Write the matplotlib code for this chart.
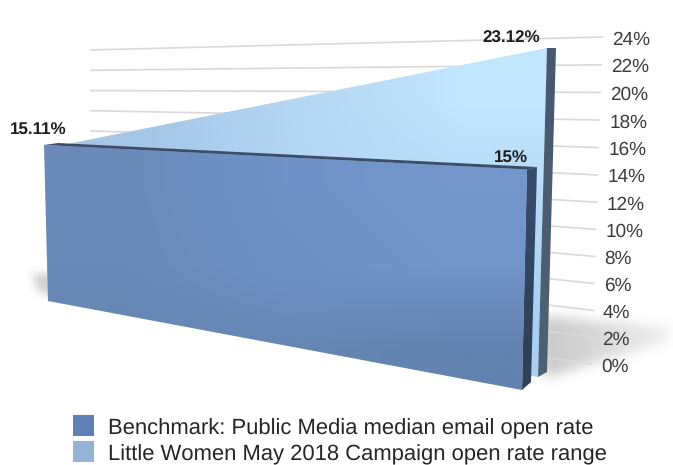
import numpy as np
import matplotlib
matplotlib.use("Agg")
import matplotlib.pyplot as plt
from matplotlib.path import Path
from matplotlib.patches import Polygon, Rectangle

# ---- chart values ----
tick_values = list(range(0, 26, 2))
tick_labels = [f"{v}%" for v in tick_values]
positions = [0, 1]
benchmark_values = [15, 15]
campaign_values = [15.11, 23.12]
benchmark_labels = ["", "15%"]
campaign_labels = ["15.11%", "23.12%"]
legend_labels = ["Benchmark: Public Media median email open rate",
                 "Little Women May 2018 Campaign open rate range"]

W, H = 673, 465
plt.rcParams["font.family"] = ["Liberation Sans", "DejaVu Sans"]
plt.rcParams["text.hinting"] = "no_hinting"
plt.rcParams["text.hinting_factor"] = 1
fig = plt.figure(figsize=(W / 100, H / 100), dpi=100)
ax = fig.add_axes([0, 0, 1, 1])
ax.set_axis_off()


def homography(src, dst):
    """Solve the plane projection taking four (position, value) pairs to canvas points."""
    rows, rhs = [], []
    for (u, v), (x, y) in zip(src, dst):
        rows.append([u, v, 1, 0, 0, 0, -u * x, -v * x]); rhs.append(x)
        rows.append([0, 0, 0, u, v, 1, -u * y, -v * y]); rhs.append(y)
    m = np.linalg.solve(np.array(rows, float), np.array(rhs, float))
    return np.append(m, 1).reshape(3, 3)


def plane(top_val_l, top_val_r, tl, bl, tr, br):
    mat = homography([(0, top_val_l), (0, 0), (1, top_val_r), (1, 0)], [tl, bl, tr, br])

    def project(u, v):
        p = mat @ np.array([u, v, 1.0])
        return p[0] / p[2], p[1] / p[2]
    return project


# Perspective planes of the 3D scene: back wall, campaign slab, benchmark slab
wall = plane(24, 24, (90, 50), (90, 290), (603, 37), (592, 364))
campaign = plane(15.11, 23.12, (70, 143.5), (72, 290), (547, 48), (538, 377))
campaign_back = plane(15.11, 23.12, (84, 141), (86, 286), (556, 48), (547, 372))
benchmark = plane(15, 15, (44, 145), (48, 301), (527, 169.5), (522, 390))
benchmark_back = plane(15, 15, (58, 143), (62, 295), (537, 167), (531, 382))


def gradient_poly(points, colours):
    """Fill a polygon with a bilinear gradient taken from a grid of hex colours."""
    pts = np.array(points)
    x0, y0 = pts.min(0)
    x1, y1 = pts.max(0)
    grid = np.array([[matplotlib.colors.to_rgb(c) for c in row] for row in colours])
    im = ax.imshow(grid, extent=(x0, x1, y1, y0), origin="upper", aspect="auto",
                   interpolation="bilinear", zorder=ax.get_zorder() + 3)
    patch = Polygon(points, closed=True, transform=ax.transData, fc="none", ec="none")
    ax.add_patch(patch)
    im.set_clip_path(patch)
    return im


def soft_shadow(points, sigma, alpha, fade_from=None, fade_to=None):
    """Blurred grey shadow rasterised onto the canvas."""
    yy, xx = np.mgrid[0:H, 0:W]
    mask = Path(points).contains_points(np.c_[xx.ravel() + .5, yy.ravel() + .5]).reshape(H, W).astype(float)
    r = int(3 * sigma)
    k = np.exp(-0.5 * (np.arange(-r, r + 1) / sigma) ** 2)
    k /= k.sum()
    mask = np.apply_along_axis(lambda a: np.convolve(a, k, mode="same"), 0, mask)
    mask = np.apply_along_axis(lambda a: np.convolve(a, k, mode="same"), 1, mask)
    if fade_from is not None:
        mask *= np.clip((fade_to - xx) / (fade_to - fade_from), 0, 1) ** 0.7
    rgba = np.zeros((H, W, 4))
    rgba[..., :3] = 0.45
    rgba[..., 3] = mask * alpha
    ax.imshow(rgba, extent=(0, W, H, 0), origin="upper", aspect="auto", zorder=1)


# Grid lines on the back wall, with tick labels just past their right ends
for v, lab in zip(tick_values, tick_labels):
    a, b = wall(0, v), wall(1, v)
    ax.plot([a[0], b[0]], [a[1], b[1]], color="#d9d9d9", lw=1.2, zorder=2, solid_capstyle="butt")
    lx, ly = wall(1, v)
    ax.text(lx + 9, ly + 2.5, lab, fontsize=14, color="#3c3c3c", ha="left", va="center", zorder=8)

# Floor shadows
soft_shadow([(535, 316), (673, 327), (673, 340), (545, 378)], 6, 0.38, 545, 690)
soft_shadow([(32, 274), (60, 274), (60, 298), (38, 292)], 4, 0.32)

# Campaign slab: front face and dark end
campaign_face = [campaign(positions[0], campaign_values[0]), campaign(positions[1], campaign_values[1]),
                 campaign(positions[1], 0), campaign(positions[0], 0)]
gradient_poly(campaign_face, [["#a6c6e6", "#b6d8f3", "#c2e6fc"],
                              ["#a6c6e6", "#b4d6f4", "#b4d9f6"],
                              ["#a6c6e6", "#aacdf0", "#a9cff2"]])
campaign_end = [campaign(1, campaign_values[1]), campaign_back(1, campaign_values[1]),
                campaign_back(1, 0), campaign(1, 0)]
gradient_poly(campaign_end, [["#485a70", "#485a70"], ["#4d6074", "#4d6074"]])

# Benchmark slab: thin top, front face and dark end
benchmark_top = [benchmark(0, benchmark_values[0]), benchmark(1, benchmark_values[1]),
                 benchmark_back(1, benchmark_values[1]), benchmark_back(0, benchmark_values[0])]
ax.add_patch(Polygon(benchmark_top, closed=True, fc="#3b4d68", ec="none", zorder=5))
benchmark_end = [benchmark(1, benchmark_values[1]), benchmark_back(1, benchmark_values[1]),
                 benchmark_back(1, 0), benchmark(1, 0)]
gradient_poly(benchmark_end, [["#36496a", "#36496a"], ["#2f4258", "#2f4258"]])
benchmark_face = [benchmark(0, benchmark_values[0]), benchmark(1, benchmark_values[1]),
                  benchmark(1, 0), benchmark(0, 0)]
gradient_poly(benchmark_face, [["#6a8ab9", "#7092c8", "#7496cb"],
                               ["#6989b8", "#6f90c4", "#7294c8"],
                               ["#6586b2", "#6687b4", "#6382b0"]])

# Value labels above the slab corners
label_style = dict(fontsize=12.6, fontweight="bold", color="#1e1e1e", ha="right", va="center", zorder=9)
x, y = campaign(positions[0], campaign_values[0])
ax.text(x - 3, y - 13, campaign_labels[0], **label_style)
x, y = campaign(positions[1], campaign_values[1])
ax.text(x - 7, y - 9.5, campaign_labels[1], **label_style)
x, y = benchmark(positions[1], benchmark_values[1])
ax.text(x + 1, y - 11.5, benchmark_labels[1], **label_style)

# Legend
for (lab, col, top) in zip(legend_labels, ["#5f80b5", "#95b3d7"], [415, 441]):
    ax.add_patch(Rectangle((73, top), 21, 21, fc=col, ec="none", zorder=6))
    ax.text(108, top + 13.5, lab, fontsize=16.2, color="#262626", ha="left", va="center", zorder=9)

ax.set_xlim(0, W)
ax.set_ylim(H, 0)
fig.savefig("out.png", dpi=100, facecolor="white")
